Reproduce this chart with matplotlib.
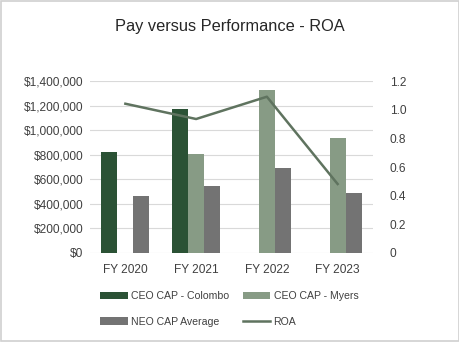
import matplotlib
matplotlib.use("Agg")
import matplotlib.pyplot as plt
import numpy as np
from matplotlib.ticker import FuncFormatter
from matplotlib.patches import Rectangle

plt.rcParams['font.family'] = ['Liberation Sans', 'DejaVu Sans']

categories = ["FY 2020", "FY 2021", "FY 2022", "FY 2023"]
ceo_colombo = [825000, 1171000, 0, 0]
ceo_myers = [0, 804000, 1329000, 934000]
neo_avg = [465000, 547000, 689000, 490000]
roa = [1.043, 0.936, 1.092, 0.481]

c_col = "#2b5235"
c_mye = "#879b85"
c_neo = "#737373"
c_roa = "#5f735f"
txt = "#404040"

fig = plt.figure(figsize=(4.6, 3.42), dpi=100)
fig.patches.append(Rectangle((0.002, 0.002), 0.996, 0.996, transform=fig.transFigure,
                             fill=False, edgecolor="#d0d0d0", linewidth=1.2))
ax = fig.add_axes([90/460, 1-252.7/342, 283/460, 171.4/342])
x = np.arange(len(categories))
w = 0.225
ax.bar(x - w, ceo_colombo, w, color=c_col, label="CEO CAP - Colombo", zorder=3)
ax.bar(x, ceo_myers, w, color=c_mye, label="CEO CAP - Myers", zorder=3)
ax.bar(x + w, neo_avg, w, color=c_neo, label="NEO CAP Average", zorder=3)
ax.set_ylim(0, 1400000)
ax.set_yticks(np.arange(0, 1400001, 200000))
ax.yaxis.set_major_formatter(FuncFormatter(lambda v, p: f"${v:,.0f}"))
ax.set_xlim(-0.5, 3.5)
ax.set_xticks(x)
ax.set_xticklabels(categories)
ax.grid(axis='y', color="#d9d9d9", linewidth=0.8, zorder=0)
for s in ax.spines.values():
    s.set_visible(False)
ax.tick_params(length=0, labelsize=8.6, colors=txt, pad=5)
ax.tick_params(axis='x', pad=8)

ax2 = ax.twinx()
ax2.plot(x, roa, color=c_roa, linewidth=1.8, label="ROA", zorder=4)
ax2.set_ylim(0, 1.2)
ax2.set_yticks([0, 0.2, 0.4, 0.6, 0.8, 1.0, 1.2])
ax2.set_yticklabels(["0", "0.2", "0.4", "0.6", "0.8", "1.0", "1.2"])
for s in ax2.spines.values():
    s.set_visible(False)
ax2.tick_params(length=0, labelsize=8.6, colors=txt, pad=12)

fig.text(0.5, 1-26/342, "Pay versus Performance - ROA", ha='center', va='center',
         fontsize=11.8, color="#262626")

h1, l1 = ax.get_legend_handles_labels()
h2, l2 = ax2.get_legend_handles_labels()
handles = [h1[0], h1[2], h1[1], h2[0]]
labels = [l1[0], l1[2], l1[1], l2[0]]
fig.legend(handles, labels, ncol=2, loc='upper left',
           bbox_to_anchor=(92/460, 1-283/342), frameon=False, fontsize=7.6,
           labelcolor=txt, handlelength=2.6, handleheight=0.7, handletextpad=0.3,
           columnspacing=1.3, labelspacing=1.45, borderpad=0.3)

fig.savefig("out.png", dpi=100)
